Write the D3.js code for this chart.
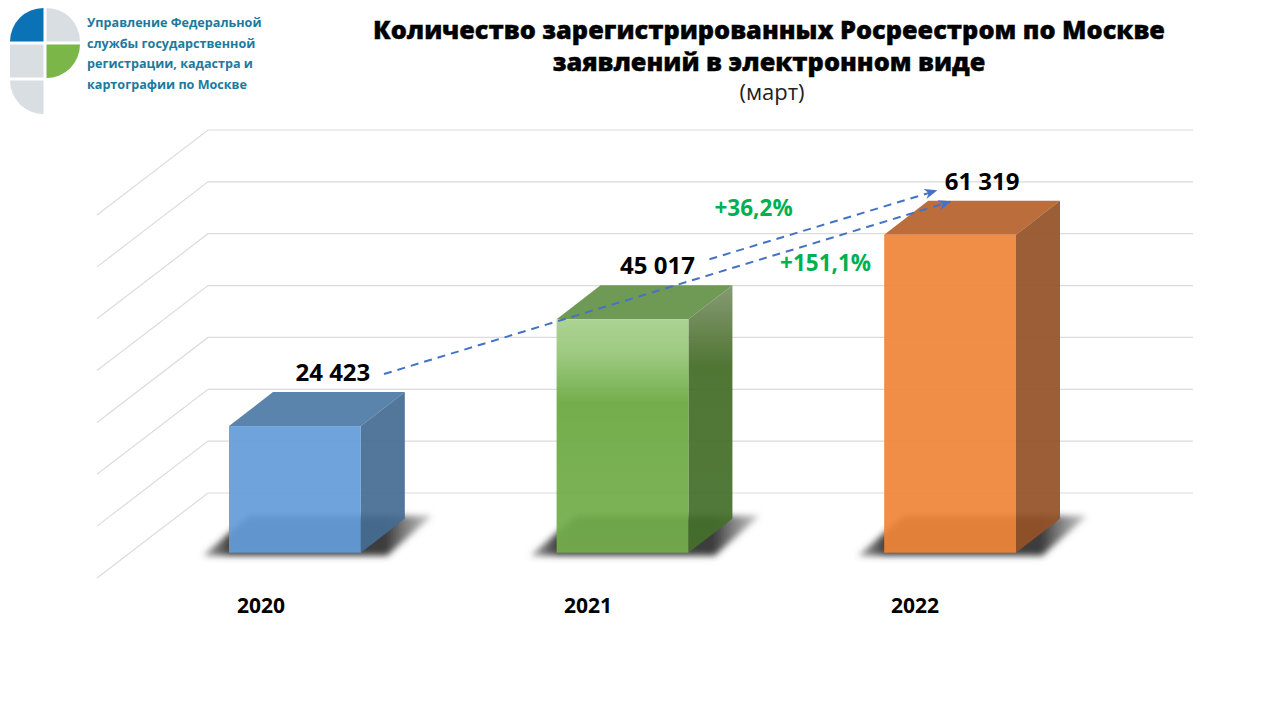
<!DOCTYPE html>
<html lang="ru">
<head>
<meta charset="UTF-8">
<title>Количество заявлений</title>
<script src="https://d3js.org/d3.v7.min.js"></script>
<style>
  html, body { margin: 0; background: #fff; }
  svg { display: block; }
  text { font-family: "Open Sans", sans-serif; }
</style>
</head>
<body>
<svg id="chart" width="1280" height="720"></svg>
<script>
const years = ["2020", "2021", "2022"];
const values = [24423, 45017, 61319];
const valueLabels = ["24 423", "45 017", "61 319"];
const gridTicks = [0, 10000, 20000, 30000, 40000, 50000, 60000, 70000];
const titleLines = ["Количество зарегистрированных Росреестром по Москве", "заявлений в электронном виде"];
const subtitle = "(март)";
const logoLines = ["Управление Федеральной", "службы государственной", "регистрации, кадастра и", "картографии по Москве"];
const growthLabels = ["+36,2%", "+151,1%"];

const barColors = [
  { front: "#639dd8", top: "#5b84ad", side: "#456d92" },
  { front: "#70ad47", top: "#6f9a55", side: "#4f7a35" },
  { front: "#ef8439", top: "#bb6e3c", side: "#955228" }
];

const svg = d3.select("#chart");
const defs = svg.append("defs");

const x = d3.scaleBand().domain(years).range([229, 1016]).paddingInner(0.5976).paddingOuter(0);
const h = d3.scaleLinear().domain([0, 70000]).range([0, 363]);

const floorY = 552.7;      // front bottom edge of the bars
const depth = { x: 44, y: 34 };
const wall = { x: 208, y: 493, dx: 111, dy: 85, right: 1193 };

const line = d3.line();

// blur for floor shadows
defs.append("filter").attr("id", "blur").attr("x", "-20%").attr("y", "-40%").attr("width", "140%").attr("height", "180%")
  .append("feGaussianBlur").attr("stdDeviation", 3);

// shadow fades out towards both ends
const shadowFade = defs.append("linearGradient").attr("id", "shadowFade").attr("x1", 0).attr("y1", 0).attr("x2", 1).attr("y2", 0);
[[0, "#555", 0.55], [0.12, "#333", 0.95], [0.8, "#333", 0.95], [1, "#777", 0.4]].forEach(s =>
  shadowFade.append("stop").attr("offset", s[0]).attr("stop-color", s[1]).attr("stop-opacity", s[2]));

// green bar gradients
const greenFront = defs.append("linearGradient").attr("id", "greenFront").attr("x1", 0).attr("y1", 0).attr("x2", 0).attr("y2", 1);
[[0, "#a6d08a"], [0.14, "#97c679"], [0.36, "#69a83e"], [1, "#75ae4e"]].forEach(s => greenFront.append("stop").attr("offset", s[0]).attr("stop-color", s[1]));
const greenSide = defs.append("linearGradient").attr("id", "greenSide").attr("x1", 0).attr("y1", 0).attr("x2", 0).attr("y2", 1);
[[0, "#7d9368"], [0.3, "#436c25"], [1, "#44702c"]].forEach(s => greenSide.append("stop").attr("offset", s[0]).attr("stop-color", s[1]));

// grid
gridTicks.forEach(t => {
  const gy = wall.y - h(t);
  svg.append("path")
    .attr("d", line([[wall.x - wall.dx, gy + wall.dy], [wall.x, gy], [wall.right, gy]]))
    .attr("fill", "none").attr("stroke", "#dcdcdc").attr("stroke-width", 1.2);
});

// bars
const bw = x.bandwidth();
years.forEach((year, i) => {
  const bx = x(year);
  const topY = floorY - h(values[i]);
  const g = svg.append("g");

  g.append("path")
    .attr("d", line([[bx - 26, floorY + 3], [bx + 20, floorY - 37], [bx + 203, floorY - 37], [bx + 158, floorY + 3]]) + "Z")
    .attr("fill", "url(#shadowFade)").attr("filter", "url(#blur)");

  g.append("path")
    .attr("d", line([[bx, topY], [bx + depth.x, topY - depth.y], [bx + bw + depth.x, topY - depth.y], [bx + bw, topY]]) + "Z")
    .attr("fill", barColors[i].top);
  g.append("path")
    .attr("d", line([[bx + bw, topY], [bx + bw + depth.x, topY - depth.y], [bx + bw + depth.x, floorY - depth.y], [bx + bw, floorY]]) + "Z")
    .attr("fill", i === 1 ? "url(#greenSide)" : barColors[i].side).attr("fill-opacity", 0.93);
  g.append("rect")
    .attr("x", bx).attr("y", topY).attr("width", bw).attr("height", floorY - topY)
    .attr("fill", i === 1 ? "url(#greenFront)" : barColors[i].front).attr("fill-opacity", 0.93);

  svg.append("text").attr("x", bx + bw / 2 - 34 - i * 0.5).attr("y", 613)
    .attr("text-anchor", "middle").attr("font-size", 21).attr("font-weight", 700).attr("fill", "#000").text(year);
  svg.append("text").attr("x", bx + bw / 2 + 38 - i * 3).attr("y", topY - depth.y - 11)
    .attr("text-anchor", "middle").attr("font-size", 24).attr("font-weight", 700).attr("fill", "#000").text(valueLabels[i]);
});

// dashed growth arrows
const arrowHead = defs.append("marker").attr("id", "arrow").attr("viewBox", "0 0 10 10").attr("refX", 9).attr("refY", 5)
  .attr("markerWidth", 6.5).attr("markerHeight", 6.5).attr("orient", "auto");
arrowHead.append("path").attr("d", "M0,1 L10,5 L0,9 L3,5 Z").attr("fill", "#4472c4");

const topOf = i => floorY - h(values[i]);
const arrows = [
  { from: [x(years[1]) + bw + 21, topOf(1) - 60], to: [x(years[2]) + 52, topOf(2) - 44] },
  { from: [x(years[0]) + 155, topOf(0) - 52], to: [x(years[2]) + 66, topOf(2) - 33] }
];
arrows.forEach(a => {
  svg.append("path").attr("d", line([a.from, a.to]))
    .attr("fill", "none").attr("stroke", "#4472c4").attr("stroke-width", 2)
    .attr("stroke-dasharray", "8 6").attr("marker-end", "url(#arrow)");
});

svg.append("text").attr("x", x(years[1]) + 197).attr("y", topOf(1) - 103)
  .attr("text-anchor", "middle").attr("font-size", 22.5).attr("font-weight", 700).attr("fill", "#00b050").text(growthLabels[0]);
svg.append("text").attr("x", x(years[1]) + 269).attr("y", topOf(1) - 48)
  .attr("text-anchor", "middle").attr("font-size", 22.5).attr("font-weight", 700).attr("fill", "#00b050").text(growthLabels[1]);

// title
svg.selectAll(".title").data(titleLines).join("text").attr("class", "title")
  .attr("x", 769).attr("y", (d, i) => 39 + i * 32)
  .attr("text-anchor", "middle").attr("font-size", 25.3).attr("font-weight", 800).attr("fill", "#000")
  .attr("stroke", "#000").attr("stroke-width", 0.4).text(d => d);
svg.append("text").attr("x", 772).attr("y", 100).attr("text-anchor", "middle").attr("font-size", 22).attr("fill", "#222").text(subtitle);

// logo
const quarter = (cx, cy, start, fill) => svg.append("path")
  .attr("transform", `translate(${cx},${cy})`)
  .attr("d", d3.arc()({ innerRadius: 0, outerRadius: 33.5, startAngle: start, endAngle: start + Math.PI / 2 }))
  .attr("fill", fill);
quarter(43.5, 41.5, -Math.PI / 2, "#0b72b5");
quarter(46.5, 41.5, 0, "#d9dee2");
quarter(46.5, 44.5, Math.PI / 2, "#7ab648");
quarter(43.5, 80.5, Math.PI, "#d9dee2");
svg.append("rect").attr("x", 10).attr("y", 44.5).attr("width", 33.5).attr("height", 33).attr("fill", "#d9dee2");

svg.selectAll(".logo").data(logoLines).join("text").attr("class", "logo")
  .attr("x", 87).attr("y", (d, i) => 27 + i * 20.6)
  .attr("font-size", 12.6).attr("font-weight", 700).attr("fill", "#1b7a9e").text(d => d);
</script>
</body>
</html>
